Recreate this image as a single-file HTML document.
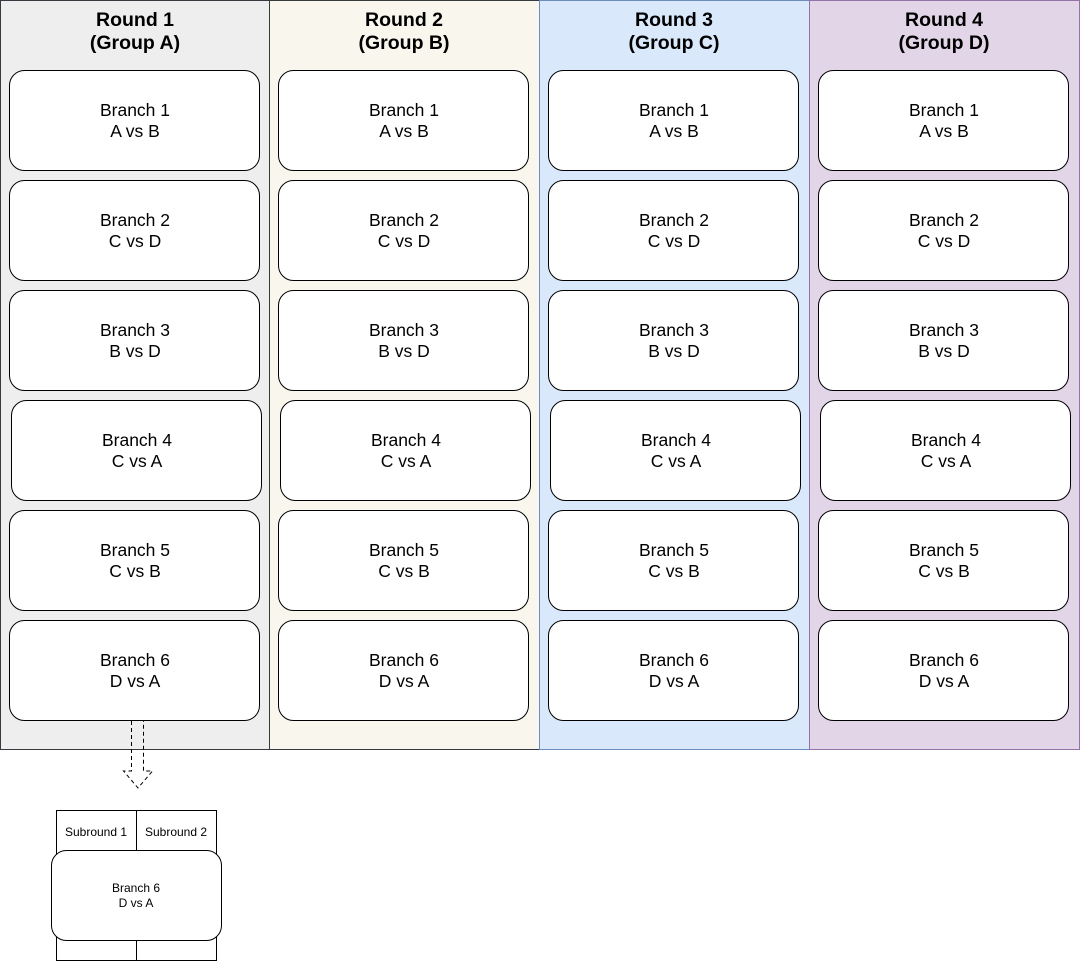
<!DOCTYPE html>
<html><head><meta charset="utf-8"><style>html,body{margin:0;padding:0;background:#fff}svg{display:block}</style></head><body>
<svg width="1080" height="961" viewBox="0 0 1080 961" xmlns="http://www.w3.org/2000/svg" font-family="Liberation Sans, Arial, sans-serif">
<rect x="0.5" y="0.5" width="269" height="749" fill="#eeeeee" stroke="#36393d"/>
<rect x="269.5" y="0.5" width="270" height="749" fill="#f9f7ed" stroke="#36393d"/>
<rect x="539.5" y="0.5" width="270" height="749" fill="#dae8fc" stroke="#6c8ebf"/>
<rect x="809.5" y="0.5" width="270" height="749" fill="#e1d5e7" stroke="#9673a6"/>
<g font-size="19.5" font-weight="bold" text-anchor="middle" fill="#000">
<text x="135" y="26">Round 1</text><text x="135" y="49">(Group A)</text>
<text x="404" y="26">Round 2</text><text x="404" y="49">(Group B)</text>
<text x="674" y="26">Round 3</text><text x="674" y="49">(Group C)</text>
<text x="944" y="26">Round 4</text><text x="944" y="49">(Group D)</text>
</g>
<g id="col" font-size="17.5" text-anchor="middle" fill="#000">
<rect x="9.5" y="70.5" width="250" height="100" rx="15" fill="#fff" stroke="#000"/>
<text x="135" y="116">Branch 1</text><text x="135" y="137">A vs B</text>
<rect x="9.5" y="180.5" width="250" height="100" rx="15" fill="#fff" stroke="#000"/>
<text x="135" y="226">Branch 2</text><text x="135" y="247">C vs D</text>
<rect x="9.5" y="290.5" width="250" height="100" rx="15" fill="#fff" stroke="#000"/>
<text x="135" y="336">Branch 3</text><text x="135" y="357">B vs D</text>
<rect x="11.5" y="400.5" width="250" height="100" rx="15" fill="#fff" stroke="#000"/>
<text x="137" y="446">Branch 4</text><text x="137" y="467">C vs A</text>
<rect x="9.5" y="510.5" width="250" height="100" rx="15" fill="#fff" stroke="#000"/>
<text x="135" y="556">Branch 5</text><text x="135" y="577">C vs B</text>
<rect x="9.5" y="620.5" width="250" height="100" rx="15" fill="#fff" stroke="#000"/>
<text x="135" y="666">Branch 6</text><text x="135" y="687">D vs A</text>
</g>
<use href="#col" x="269"/>
<use href="#col" x="539"/>
<use href="#col" x="809"/>
<path d="M131.5 721 L131.5 771 L123.5 771 L138 788 L152.5 771 L143.5 771 L143.5 721" fill="none" stroke="#000" stroke-dasharray="4 3"/>
<rect x="56.5" y="810.5" width="80" height="150" fill="#fff" stroke="#000"/>
<rect x="136.5" y="810.5" width="80" height="150" fill="#fff" stroke="#000"/>
<g font-size="12" text-anchor="middle">
<text x="96" y="836">Subround 1</text><text x="176" y="836">Subround 2</text>
</g>
<rect x="51.5" y="850.5" width="170" height="90" rx="15" fill="#fff" stroke="#000"/>
<g font-size="12" text-anchor="middle">
<text x="136" y="892">Branch 6</text><text x="136" y="907">D vs A</text>
</g>
</svg>
</body></html>
